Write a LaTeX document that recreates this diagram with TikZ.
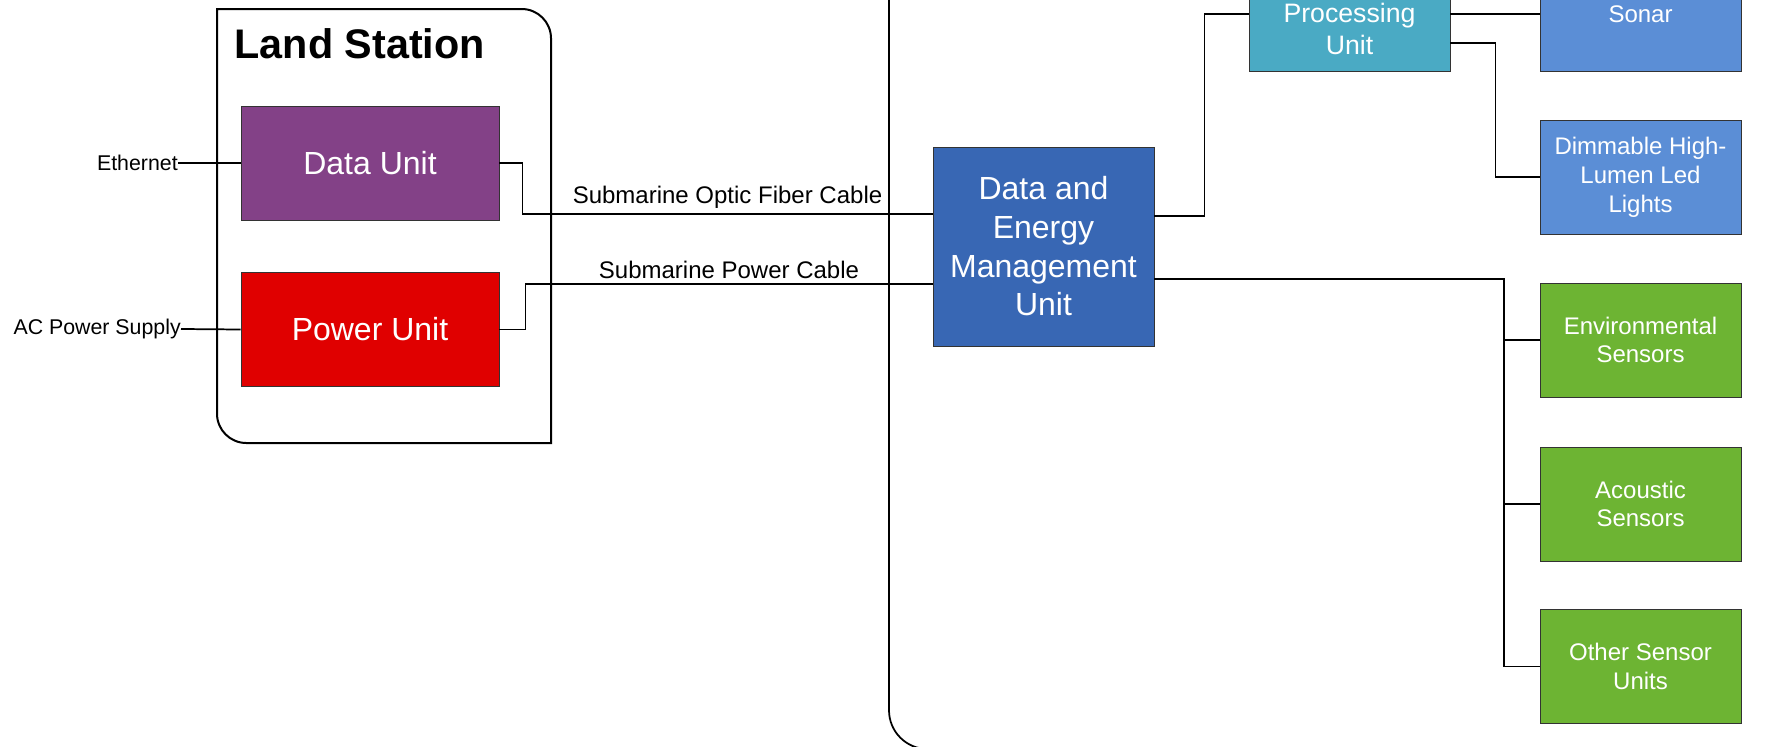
\documentclass[tikz,border=0pt]{standalone}
\usepackage{fontspec}
\setmainfont{Liberation Sans}
\usetikzlibrary{calc}
\definecolor{datapurple}{RGB}{131,65,135}
\definecolor{powerred}{RGB}{224,0,0}
\definecolor{demublue}{RGB}{56,103,180}
\definecolor{proccyan}{RGB}{74,170,196}
\definecolor{lightblue}{RGB}{91,142,214}
\definecolor{sensgreen}{RGB}{109,180,51}
\begin{document}
\begin{tikzpicture}[x=0.75pt, y=-0.75pt,
                unitbox/.style={
                    draw=black!80, line width=0.6pt, text=white, align=center, inner sep=2pt
                },
                sensorbox/.style={
                    unitbox, minimum width=150.75pt, minimum height=85.5pt,
                    font=\fontsize{18}{21.6}\selectfont
                },
                wire/.style={line width=1.3pt},
                cabletext/.style={font=\fontsize{18}{21.6}\selectfont}
            ]
            \useasboundingbox (0,0) rectangle (1773,746);
            \clip (0,0) rectangle (1773,746);

            % containers
            \draw[line width=1.5pt] (217,200) -- (217,9) [rounded corners=22pt] -- (551,9) [sharp corners] -- (551,443) [rounded corners=22pt] -- (217,443) [sharp corners] -- cycle;
            \draw[line width=1.3pt, rounded corners=29pt] (889,-40) -- (889,749) -- (1820,749);
            \node[anchor=west, font=\fontsize{31}{37}\selectfont\bfseries] (land) at (230,44) {Land Station};

            % nodes
            \node[unitbox, fill=datapurple, minimum width=193.5pt, minimum height=85.5pt, font=\fontsize{24}{29}\selectfont] (data) at (370,163) {Data Unit};
            \node[unitbox, fill=powerred, minimum width=193.5pt, minimum height=85.5pt, font=\fontsize{24}{29}\selectfont] (power) at (370,329.5) {Power Unit};
            \node[anchor=east, font=\fontsize{16}{19}\selectfont, inner sep=0pt] (eth) at (178,163) {Ethernet};
            \node[anchor=east, font=\fontsize{16}{19}\selectfont, inner sep=0pt] (acps) at (181,329) {AC Power Supply};
            \node[unitbox, fill=demublue, minimum width=165.75pt, minimum height=149.25pt, font=\fontsize{24}{29}\selectfont] (demu) at (1043.5,246.5) {Data and\\Energy\\Management\\Unit};
            \node[unitbox, fill=proccyan, minimum width=150.75pt, minimum height=63pt, font=\fontsize{20}{23.8}\selectfont] (proc) at (1349.5,29) {Processing\\Unit};
            \node[sensorbox, fill=lightblue] (sonar) at (1640.5,14) {Sonar};
            \node[sensorbox, fill=lightblue] (lights) at (1640.5,177) {Dimmable High-\\Lumen Led\\Lights};
            \node[sensorbox, fill=sensgreen] (env) at (1640.5,340) {Environmental\\Sensors};
            \node[sensorbox, fill=sensgreen] (acoustic) at (1640.5,504) {Acoustic\\Sensors};
            \node[sensorbox, fill=sensgreen] (other) at (1640.5,666.5) {Other Sensor\\Units};

            % connectors
            \draw[wire] (eth.east) -- (data.west);
            \draw[wire] (acps.east) -- (power.west);
            \draw[wire] (data.east) -- ++(23,0) |- ($(demu.west)+(0,-32.5)$) node[pos=0.75, above, cabletext] {Submarine Optic Fiber Cable};
            \draw[wire] (power.east) -- ++(26,0) |- ($(demu.west)+(0,37.5)$) node[pos=0.75, above, cabletext] {Submarine Power Cable};
            \draw[wire] ($(demu.east)+(0,-30.5)$) -- ++(50,0) |- (proc.west |- sonar.west);
            \draw[wire] (proc.east |- sonar.west) -- (sonar.west);
            \draw[wire] ($(proc.east)+(0,14)$) -- ++(45,0) |- (lights.west);
            \coordinate (bus) at (1504,279);
            \draw[wire] (demu.east |- bus) -- (bus) |- (other.west);
            \draw[wire] (bus |- env.west) -- (env.west);
            \draw[wire] (bus |- acoustic.west) -- (acoustic.west);
            \end{tikzpicture}
\end{document}
